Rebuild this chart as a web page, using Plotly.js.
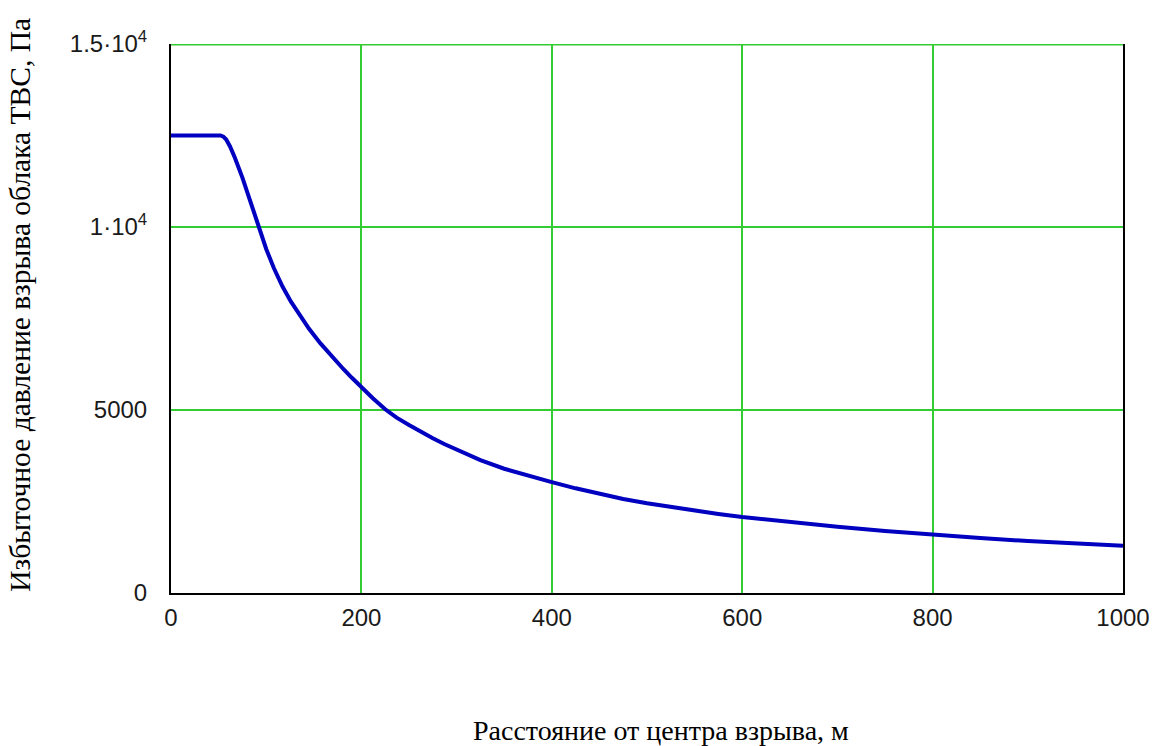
<!DOCTYPE html>
<html>
<head>
<meta charset="utf-8">
<script src="https://cdn.plot.ly/plotly-3.0.1.min.js"></script>
<style>html,body{margin:0;padding:0;background:#fff;}#chart{width:1153px;height:746px;}</style>
</head>
<body>
<div id="chart"></div>
<script>
// Distance from explosion centre, m
const distance = [0, 25, 52, 55, 58, 62, 67, 75, 83, 91, 100, 108, 117, 126, 134, 145, 157, 169, 181, 190, 200, 212, 225, 237, 250, 262, 275, 287, 300, 325, 350, 375, 400, 425, 450, 475, 500, 525, 550, 575, 600, 650, 700, 750, 800, 850, 900, 950, 1000];
// Excess pressure, Pa
const pressure = [12500, 12500, 12500, 12470, 12390, 12200, 11900, 11350, 10720, 10050, 9400, 8880, 8380, 7960, 7630, 7220, 6820, 6460, 6120, 5880, 5620, 5320, 5020, 4790, 4590, 4410, 4230, 4070, 3910, 3630, 3395, 3200, 3030, 2860, 2705, 2570, 2450, 2345, 2250, 2160, 2075, 1935, 1810, 1695, 1590, 1500, 1420, 1350, 1290];

const xTickVals = [0, 200, 400, 600, 800, 1000];
const xTickText = ["0", "200", "400", "600", "800", "1000"];
const yTickVals = [0, 5000, 10000, 15000];
const yTickText = ["0", "5000", "1·10<sup>4</sup>", "1.5·10<sup>4</sup>"];

const xTitle = "Расстояние от центра взрыва, м";
const yTitle = "Избыточное давление взрыва облака ТВС, Па";

const tickFont = {family: "Liberation Sans, Arial, sans-serif", size: 24, color: "#1a1a1a"};
const xTitleFont = {family: "Liberation Serif, Times New Roman, serif", size: 28, color: "#000"};
const yTitleFont = {family: "Liberation Serif, Times New Roman, serif", size: 29.5, color: "#000"};

const trace = {
  x: distance, y: pressure, type: "scatter", mode: "lines",
  line: {color: "#0000c0", width: 4}, hoverinfo: "skip"
};

const layout = {
  width: 1153, height: 746,
  margin: {l: 171, r: 30, t: 44, b: 153},
  paper_bgcolor: "#fff", plot_bgcolor: "#fff",
  showlegend: false,
  xaxis: {
    range: [0, 1000], tickvals: xTickVals, ticktext: xTickText,
    showgrid: true, gridcolor: "#33cc33", gridwidth: 2,
    showline: true, linecolor: "#000", linewidth: 2, mirror: false,
    ticks: "", ticklen: 0, tickfont: tickFont, zeroline: false,
    ticklabelstandoff: 2
  },
  yaxis: {
    range: [0, 15000], tickvals: yTickVals, ticktext: yTickText,
    showgrid: true, gridcolor: "#33cc33", gridwidth: 2,
    showline: true, linecolor: "#000", linewidth: 2, mirror: true,
    ticks: "", ticklen: 0, tickfont: tickFont, zeroline: false,
    ticklabelstandoff: 17
  },
  shapes: [
    {type: "line", xref: "paper", yref: "y", x0: 0, x1: 1, y0: 15000, y1: 15000,
     line: {color: "#33cc33", width: 3}, layer: "above"}
  ],
  annotations: [
    {text: xTitle, xref: "paper", yref: "paper", x: 0.515, y: -0.25,
     xanchor: "center", yanchor: "middle", showarrow: false, font: xTitleFont},
    {text: yTitle, xref: "paper", yref: "paper", x: -0.1586, y: 0.525, textangle: -90,
     xanchor: "center", yanchor: "middle", showarrow: false, font: yTitleFont}
  ]
};

Plotly.newPlot("chart", [trace], layout, {displayModeBar: false, staticPlot: true});
</script>
</body>
</html>
